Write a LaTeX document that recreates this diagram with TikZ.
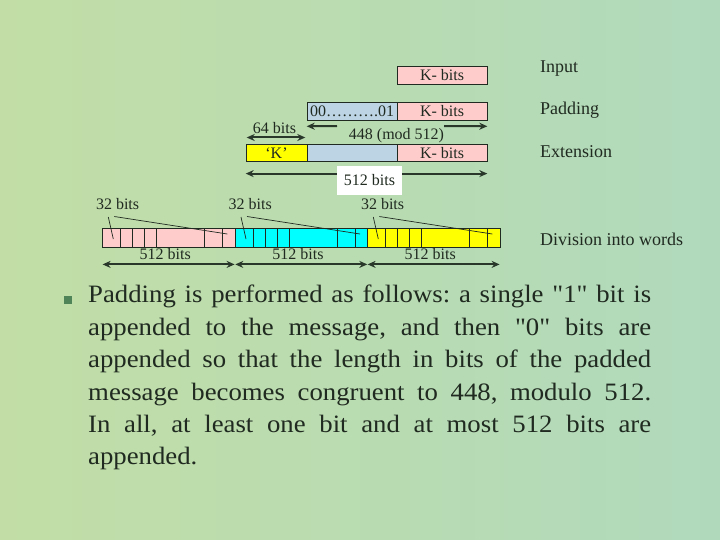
\documentclass[tikz,border=0pt]{standalone}
\usepackage{fontspec}
\setmainfont{Liberation Serif}[Ligatures=TeXOff]
\newfontfamily\bodyfam{Liberation Serif}[Ligatures=TeXOff, FakeStretch=1.07]
\usepackage{tikz}
\usetikzlibrary{calc,arrows.meta,positioning}

\definecolor{bgL}{RGB}{194,222,166}
\definecolor{bgR}{RGB}{176,217,188}
\definecolor{ink}{RGB}{32,42,32}
\definecolor{dimcol}{RGB}{40,55,42}
\definecolor{pinkf}{RGB}{255,204,204}
\definecolor{bluef}{RGB}{188,212,228}
\definecolor{yellowf}{RGB}{255,255,0}
\definecolor{cyanf}{RGB}{0,255,255}
\definecolor{bulletcol}{RGB}{78,132,88}

\newcommand\lblfont{\fontsize{16}{19}\selectfont}
\newcommand\sidefont{\fontsize{18}{21}\selectfont}
\newcommand\bodyfont{\bodyfam\fontsize{25}{32.4}\selectfont\frenchspacing\hbadness=10000\hyphenpenalty=10000}

\begin{document}
\begin{tikzpicture}[x=1pt, y=-1pt, >={Stealth[length=8pt,width=7pt]},
    field/.style={draw=ink, line width=0.6pt, inner sep=0pt, minimum height=18pt, font=\lblfont, text=ink},
    plain/.style={inner sep=0pt, font=\lblfont, text=ink},
    side/.style={anchor=base west, inner sep=0pt, font=\sidefont, text=ink},
    dim/.style={line width=2pt, draw=dimcol},
    pointer/.style={line width=0.7pt, draw=ink},
    cell/.style={line width=0.6pt, draw=ink}]
   \useasboundingbox (0,0) rectangle (720,540);
   \shade[left color=bgL, right color=bgR] (0,0) rectangle (720,540);

   %input row
   \node[field, fill=pinkf, minimum width=90pt] (inK) at (442,75) {K- bits};
   \node[side] (inlbl) at (540,72.7) {Input};

   %padding row
   \node[field, fill=bluef, minimum width=90pt] (padZ) at (352,111) {00……….01};
   \node[field, fill=pinkf, minimum width=90pt] (padK) at (442,111) {K- bits};
   \node[side] (padlbl) at (540,115) {Padding};
   \node[plain, anchor=base] (mod) at (396.5,140) {448 (mod 512)};
   \node[plain, anchor=base] (sixfour) at (274.5,133.3) {64 bits};

   %extension row
   \node[field, fill=yellowf, minimum width=61pt, minimum height=17pt] (extQ) at (276.5,153.3) {‘K’};
   \node[field, fill=bluef, minimum width=90pt, minimum height=17pt] (extZ) at (352,153.3) {};
   \node[field, fill=pinkf, minimum width=90pt, minimum height=17pt] (extK) at (442,153.3) {K- bits};
   \node[side] (extlbl) at (540,157.7) {Extension};

   \coordinate (modLtip) at ($(padZ.south west)+(0,6)$);
   \coordinate (modL) at (337,126);
   \coordinate (modR) at (444,126);
   \coordinate (modRtip) at ($(padK.south east)+(0,6)$);
   \coordinate (sixL) at ($(extQ.north west)+(1,-7)$);
   \coordinate (sixR) at ($(extQ.north east)+(-2,-7)$);
   \coordinate (allL) at ($(extQ.south west)+(0,11.5)$);
   \coordinate (allR) at ($(extK.south east)+(0,11.5)$);

   \path[dim]
     (modL) edge[->] (modLtip)
     (modR) edge[->] (modRtip)
     (sixL) edge[<->] (sixR)
     (allL) edge[<->] (allR);
   \node[plain, fill=white, minimum width=65pt, minimum height=29pt] (allbits) at (369.5,180.5) {512 bits};

   %division into words
   \foreach \n/\x/\c in {a/102.3/pinkf, b/235/cyanf, c/367.3/yellowf} {
     \node[field, fill=\c, minimum width=132.5pt, minimum height=18.5pt, anchor=north west] (word\n) at (\x,228.3) {};
     \foreach \d in {18,30,42,54,102,120}
       \draw[cell] ($(word\n.north west)+(\d,0)$) -- ($(word\n.south west)+(\d,0)$);
     \node[plain, anchor=base] (tt\n) at (\x+15.3,210) {32 bits};
     \coordinate (sa\n) at (\x+6,217);
     \coordinate (sb\n) at (\x+11,239);
     \coordinate (la\n) at (\x+12,216.5);
     \coordinate (lb\n) at (\x+125,234);
     \draw[pointer] (sa\n) -- (sb\n);
     \draw[pointer] (la\n) -- (lb\n);
     \node[plain, anchor=base] (wb\n) at (\x+63,259) {512 bits};
     \draw[dim, <->] ($(word\n.south west)+(0.3,17)$) -- ($(word\n.south east)+(-0.8,17)$);
   }
   \node[side] (divlbl) at (540,245) {Division into words};

   %explanation
   \node[fill=bulletcol, inner sep=0pt, minimum size=8.3pt] (bullet) at (68.2,300) {};
   \node[anchor=north west, inner sep=0pt, text width=563pt, align=justify, font=\bodyfont, text=ink] (body) at (88,285)
     {Padding is performed as follows: a single "1" bit is\linebreak
      appended to the message, and then "0" bits are\linebreak
      appended so that the length in bits of the padded\linebreak
      message becomes congruent to 448, modulo 512.\linebreak
      In all, at least one bit and at most 512 bits are\linebreak
      appended.};
\end{tikzpicture}
\end{document}
